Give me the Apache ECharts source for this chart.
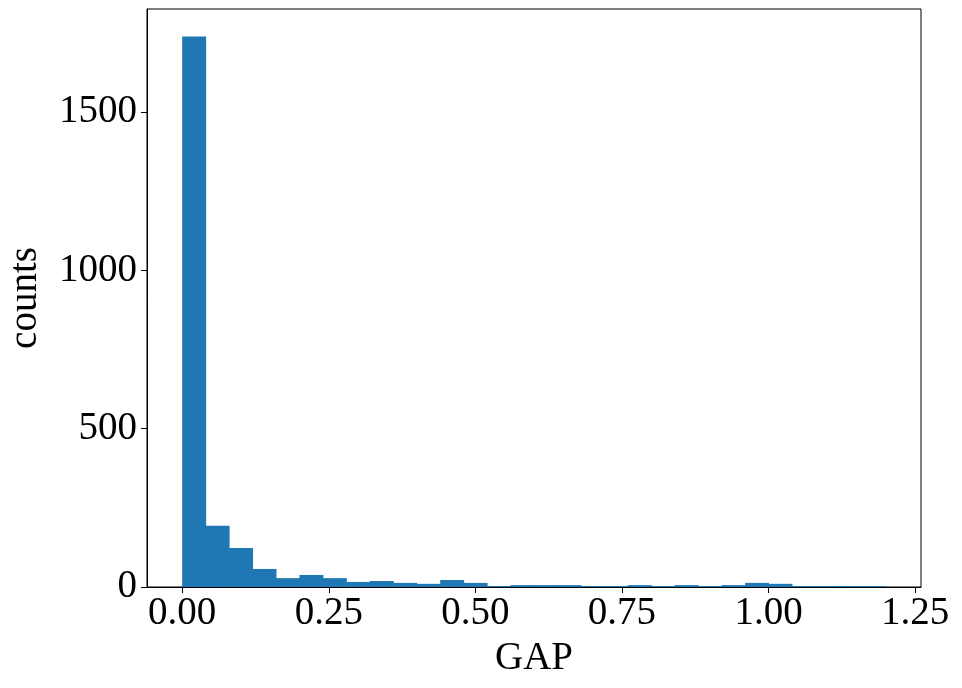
<!DOCTYPE html>
<html>
<head>
<meta charset="utf-8">
<script src="https://cdn.jsdelivr.net/npm/echarts@6/dist/echarts.min.js"></script>
<style>html,body{margin:0;padding:0;background:#fff}#c{width:962px;height:688px}</style>
</head>
<body>
<div id="c"></div>
<script>
// Histogram: 30 bins of width 0.04 from 0 to 1.2
const binStart = 0.0;
const binWidth = 0.04;
const counts = [1738, 193, 123, 57, 28, 38, 28, 16, 19, 13, 10, 22, 13, 3, 6, 6, 6, 3, 3, 6, 3, 6, 3, 6, 13, 10, 3, 3, 3, 3];
const xTicks = [0, 0.25, 0.5, 0.75, 1.0, 1.25];
const yTicks = [0, 500, 1000, 1500];
const xLabel = 'GAP';
const yLabel = 'counts';

const data = counts.map((c, i) => [binStart + i * binWidth, binStart + (i + 1) * binWidth, c]);

const font = '"Liberation Serif", "Times New Roman", serif';
const fs = 39;
const chart = echarts.init(document.getElementById('c'), null, {renderer: 'canvas'});
chart.setOption({
  animation: false,
  backgroundColor: '#fff',
  grid: {left: 147, top: 9, right: 41, bottom: 101, outerBoundsMode: 'none', containLabel: false,
         show: true, borderColor: '#000', borderWidth: 1, backgroundColor: 'transparent'},
  xAxis: {
    type: 'value', min: -0.06, max: 1.26,
    name: xLabel, nameLocation: 'middle', nameGap: 52,
    nameTextStyle: {fontFamily: font, fontSize: fs, color: '#000'},
    axisLine: {show: true, onZero: false, lineStyle: {color: '#000', width: 1}},
    axisTick: {show: true, inside: false, length: 6, lineStyle: {color: '#000', width: 1}, customValues: xTicks},
    axisLabel: {fontFamily: font, fontSize: fs, color: '#000', margin: 7, customValues: xTicks, formatter: v => v.toFixed(2)},
    splitLine: {show: false}
  },
  yAxis: {
    type: 'value', min: 0, max: 1825,
    name: yLabel, nameLocation: 'middle', nameGap: 102, nameRotate: 90,
    nameTextStyle: {fontFamily: font, fontSize: fs, color: '#000'},
    axisLine: {show: true, onZero: false, lineStyle: {color: '#000', width: 1}},
    axisTick: {show: true, inside: false, length: 6, lineStyle: {color: '#000', width: 1}, customValues: yTicks},
    axisLabel: {fontFamily: font, fontSize: fs, color: '#000', margin: 10, customValues: yTicks, formatter: v => String(v)},
    splitLine: {show: false}
  },
  series: [{
    type: 'custom',
    data: data,
    encode: {x: [0, 1], y: 2},
    renderItem: function (params, api) {
      const p0 = api.coord([api.value(0), 0]);
      const p1 = api.coord([api.value(1), api.value(2)]);
      return {
        type: 'rect',
        shape: {x: p0[0], y: p1[1], width: p1[0] - p0[0] + 0.5, height: p0[1] - p1[1]},
        style: {fill: '#1f77b4'}
      };
    }
  }]
});
</script>
</body>
</html>
